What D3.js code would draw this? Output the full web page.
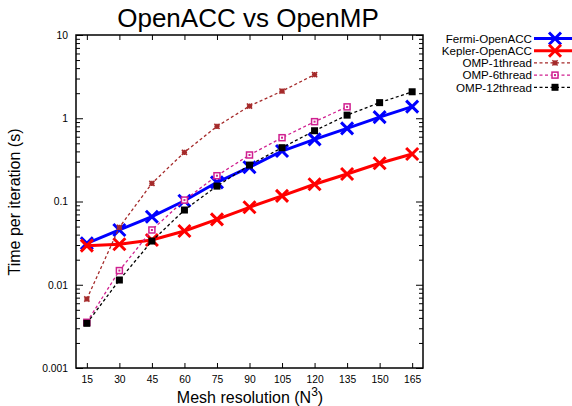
<!DOCTYPE html>
<html>
<head>
<meta charset="utf-8">
<script src="https://cdn.jsdelivr.net/npm/d3@7"></script>
<style>
  body { margin: 0; background: #fff; }
  text { font-family: "Liberation Sans", Arial, sans-serif; }
</style>
</head>
<body>
<script>
(function() {
    'use strict';

    // mesh sizes along the x axis
    var mesh = [15, 30, 45, 60, 75, 90, 105, 120, 135, 150, 165];
    var xTicks = [15, 30, 45, 60, 75, 90, 105, 120, 135, 150, 165];
    var yTicks = [0.001, 0.01, 0.1, 1, 10];

    var fermiAcc = [0.0315, 0.0455, 0.0657, 0.102, 0.170, 0.258, 0.404, 0.558, 0.757, 1.03, 1.38];
    var keplerAcc = [0.0295, 0.0306, 0.0345, 0.0442, 0.061, 0.0852, 0.117, 0.161, 0.214, 0.288, 0.372];
    var omp1 = [0.00674, 0.049, 0.165, 0.390, 0.80, 1.40, 2.12, 3.34];
    var omp6 = [0.00354, 0.0148, 0.0455, 0.104, 0.204, 0.362, 0.584, 0.91, 1.37];
    var omp12 = [0.00344, 0.0114, 0.0335, 0.079, 0.153, 0.274, 0.443, 0.708, 1.09, 1.54, 2.08];

    var series = [
        {name: "Fermi-OpenACC", vals: fermiAcc, color: "#0000ff", width: 3, dash: null, mark: "cross"},
        {name: "Kepler-OpenACC", vals: keplerAcc, color: "#ff0000", width: 3, dash: null, mark: "cross"},
        {name: "OMP-1thread", vals: omp1, color: "#a52a2a", width: 1.3, dash: "3,2.5", mark: "star"},
        {name: "OMP-6thread", vals: omp6, color: "#d02090", width: 1.3, dash: "3,2.5", mark: "osquare"},
        {name: "OMP-12thread", vals: omp12, color: "#000000", width: 1.3, dash: "3,2.5", mark: "fsquare"}
    ];

    var w = 572, h = 406;
    var left = 76, right = 423, top = 35, bottom = 368;

    var svg = d3.select("body").append("svg")
                .attr("width", w)
                .attr("height", h);

    var x = d3.scaleLinear().domain([10, 170]).range([left, right]);
    var y = d3.scaleLog().domain([0.001, 10]).range([bottom, top]);

    // minor ticks for log axis
    var minor = [];
    yTicks.slice(0, -1).forEach(function(d) {
        for (var k = 2; k < 10; k++) { minor.push(d * k); }
    });

    function tickAxis(axis, ticks, size, fmt) {
        return axis.tickValues(ticks).tickSize(size).tickFormat(fmt);
    }
    var blank = function() { return ""; };

    // bottom & top x axis
    svg.append("g").attr("transform", "translate(0," + bottom + ")")
        .call(tickAxis(d3.axisBottom(x), xTicks, -5, d3.format("d")).tickPadding(8));
    svg.append("g").attr("transform", "translate(0," + top + ")")
        .call(tickAxis(d3.axisTop(x), xTicks, -5, blank));

    // left & right y axis
    svg.append("g").attr("transform", "translate(" + left + ",0)")
        .call(tickAxis(d3.axisLeft(y), yTicks, -7, function(d) { return String(d); }).tickPadding(8));
    svg.append("g").attr("transform", "translate(" + left + ",0)")
        .call(tickAxis(d3.axisLeft(y), minor, -4, blank));
    svg.append("g").attr("transform", "translate(" + right + ",0)")
        .call(tickAxis(d3.axisRight(y), yTicks, -7, blank));
    svg.append("g").attr("transform", "translate(" + right + ",0)")
        .call(tickAxis(d3.axisRight(y), minor, -4, blank));

    svg.selectAll(".domain").remove();
    svg.selectAll(".tick line").attr("stroke", "#000").attr("stroke-width", 1);
    svg.selectAll(".tick text").attr("font-size", 10.3).attr("fill", "#000")
       .style("font-family", "'Liberation Sans', Arial, sans-serif");

    svg.append("rect")
       .attr("x", left).attr("y", top)
       .attr("width", right - left).attr("height", bottom - top)
       .attr("fill", "none").attr("stroke", "#000").attr("stroke-width", 1.5);

    // markers
    function drawMark(g, kind, color, cx, cy) {
        if (kind === "cross") {
            var s = 6;
            g.append("path")
             .attr("d", "M" + (cx - s) + "," + (cy - s) + "L" + (cx + s) + "," + (cy + s) +
                        "M" + (cx - s) + "," + (cy + s) + "L" + (cx + s) + "," + (cy - s))
             .attr("stroke", color).attr("stroke-width", 3).attr("fill", "none");
        } else if (kind === "star") {
            var t = 2.6;
            g.append("path")
             .attr("d", "M" + (cx - t) + "," + (cy - t) + "L" + (cx + t) + "," + (cy + t) +
                        "M" + (cx - t) + "," + (cy + t) + "L" + (cx + t) + "," + (cy - t) +
                        "M" + (cx - t) + "," + cy + "L" + (cx + t) + "," + cy +
                        "M" + cx + "," + (cy - t) + "L" + cx + "," + (cy + t))
             .attr("stroke", color).attr("stroke-width", 1.6).attr("fill", "none");
        } else if (kind === "osquare") {
            g.append("rect").attr("x", cx - 3).attr("y", cy - 3)
             .attr("width", 6).attr("height", 6)
             .attr("fill", "#fff").attr("stroke", color).attr("stroke-width", 1.5);
            g.append("rect").attr("x", cx - 1).attr("y", cy - 1)
             .attr("width", 2).attr("height", 2).attr("fill", color);
        } else {
            g.append("rect").attr("x", cx - 3.5).attr("y", cy - 3.5)
             .attr("width", 7).attr("height", 7).attr("fill", color);
        }
    }

    var line = d3.line()
        .x(function(d) { return x(d[0]); })
        .y(function(d) { return y(d[1]); });

    series.forEach(function(s) {
        var pts = s.vals.map(function(v, j) { return [mesh[j], v]; });
        var g = svg.append("g");
        g.append("path")
         .attr("d", line(pts))
         .attr("fill", "none")
         .attr("stroke", s.color)
         .attr("stroke-width", s.width)
         .attr("stroke-dasharray", s.dash);
        pts.forEach(function(p) { drawMark(g, s.mark, s.color, x(p[0]), y(p[1])); });
    });

    // legend
    series.forEach(function(s, i) {
        var ly = 38.5 + i * 12.2;
        var g = svg.append("g");
        g.append("text")
         .attr("x", 532).attr("y", ly + 4.3)
         .attr("text-anchor", "end")
         .attr("font-size", 11.6)
         .text(s.name);
        g.append("line")
         .attr("x1", 534).attr("x2", 572)
         .attr("y1", ly).attr("y2", ly)
         .attr("stroke", s.color)
         .attr("stroke-width", s.width)
         .attr("stroke-dasharray", s.dash);
        drawMark(g, s.mark, s.color, 555, ly);
    });

    // title & labels
    svg.append("text")
       .attr("x", 248).attr("y", 27)
       .attr("text-anchor", "middle")
       .attr("font-size", 26)
       .text("OpenACC vs OpenMP");

    var xl = svg.append("text")
       .attr("x", 250).attr("y", 402.5)
       .attr("text-anchor", "middle")
       .attr("font-size", 16);
    xl.append("tspan").text("Mesh resolution (N");
    xl.append("tspan").attr("dy", -7).attr("font-size", 12).text("3");
    xl.append("tspan").attr("dy", 7).text(")");

    svg.append("text")
       .attr("transform", "translate(20,202) rotate(-90)")
       .attr("text-anchor", "middle")
       .attr("font-size", 16)
       .text("Time per iteration (s)");
}());
</script>
</body>
</html>
